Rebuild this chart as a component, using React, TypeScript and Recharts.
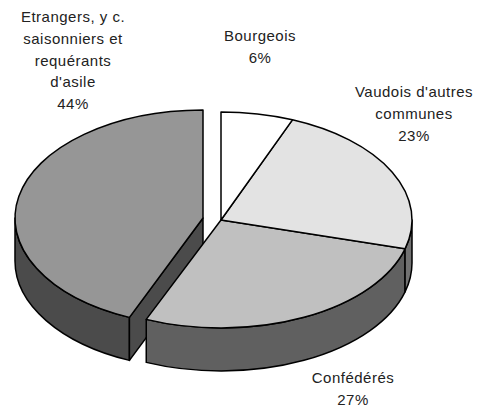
import { PieChart, Pie } from 'recharts';

// slices listed counter-clockwise from 12 o'clock, so the exploded one paints first
const categories = ['Etrangers, y c.\nsaisonniers et\nrequérants\nd\'asile', 'Confédérés', 'Vaudois d\'autres\ncommunes', 'Bourgeois'];
const shares = [43.6, 27.1, 23.2, 6.1];

const topFills = ['#969696', '#c0c0c0', '#e3e3e3', '#ffffff'];
const sideFills = ['#4b4b4b', '#606060', '#727272', '#808080'];

// where each label block is anchored (centre x, first baseline y)
const labelX = [73, 353, 414, 260];
const labelY = [22, 383, 97, 41];

const pieData = categories.map((name, i) => ({ name, value: shares[i] }));

const RAD = Math.PI / 180;
const RX = 191;
const RY = 108;
const DEPTH = 43;
const EXPLODE = { dx: -18, dy: -2, shrink: 3 };
const LINE_HEIGHT = 21.8;

function Slice3D(props: any) {
  const { startAngle, endAngle, cx, cy, name } = props;
  const i = categories.indexOf(name);
  const exploded = i === 0;
  const x0 = cx + (exploded ? EXPLODE.dx : 0);
  const y0 = cy + (exploded ? EXPLODE.dy : 0);
  const rx = RX - (exploded ? EXPLODE.shrink : 0);
  const ry = RY;
  const s = Math.min(startAngle, endAngle);
  const e = Math.max(startAngle, endAngle);
  const pt = (a: number, drop = 0) => [x0 + rx * Math.cos(a * RAD), y0 - ry * Math.sin(a * RAD) + drop];
  const [sx, sy] = pt(s);
  const [ex, ey] = pt(e);
  const large = e - s > 180 ? 1 : 0;
  const top = `M${x0},${y0} L${sx},${sy} A${rx},${ry} 0 ${large} 0 ${ex},${ey} Z`;

  // the wall only shows on the front half of the ellipse
  const from = Math.max(s, 180);
  const to = Math.min(e, 360);
  let wall = null;
  if (to > from) {
    const [ax, ay] = pt(from);
    const [bx, by] = pt(to);
    wall = `M${ax},${ay} A${rx},${ry} 0 0 0 ${bx},${by} L${bx},${by + DEPTH} A${rx},${ry} 0 0 1 ${ax},${ay + DEPTH} Z`;
  }
  const style = { stroke: '#000', strokeWidth: 1.5, strokeLinejoin: 'round' as const };

  return (
    <g>
      {wall && <path d={wall} fill={sideFills[i]} {...style} />}
      {exploded && (
        <path
          d={`M${x0},${y0} L${ex},${ey} L${ex},${ey + DEPTH} L${x0},${y0 + DEPTH} Z`}
          fill={sideFills[i]}
          {...style}
        />
      )}
      <path d={top} fill={topFills[i]} {...style} />
    </g>
  );
}

function SliceLabel(props: any) {
  const i = categories.indexOf(props.name);
  const lines = [...categories[i].split('\n'), `${Math.round(props.percent * 100)}%`];
  return (
    <text
      x={labelX[i]}
      y={labelY[i]}
      textAnchor="middle"
      fontFamily="Liberation Sans"
      fontSize={15}
      letterSpacing={0.5}
      fill="#222"
    >
      {lines.map((line, n) => (
        <tspan key={n} x={labelX[i]} y={labelY[i] + n * LINE_HEIGHT}>
          {line}
        </tspan>
      ))}
    </text>
  );
}

export default function App() {
  return (
    <div style={{ position: 'absolute', left: 0, top: 0, width: 489, height: 408, background: '#fff' }}>
      <PieChart width={489} height={408} margin={{ top: 0, right: 0, bottom: 0, left: 0 }}>
        <Pie
          data={pieData}
          dataKey="value"
          nameKey="name"
          cx={221}
          cy={220}
          outerRadius={100}
          startAngle={90}
          endAngle={450}
          shape={Slice3D}
          label={SliceLabel}
          labelLine={false}
          isAnimationActive={false}
        />
      </PieChart>
    </div>
  );
}
